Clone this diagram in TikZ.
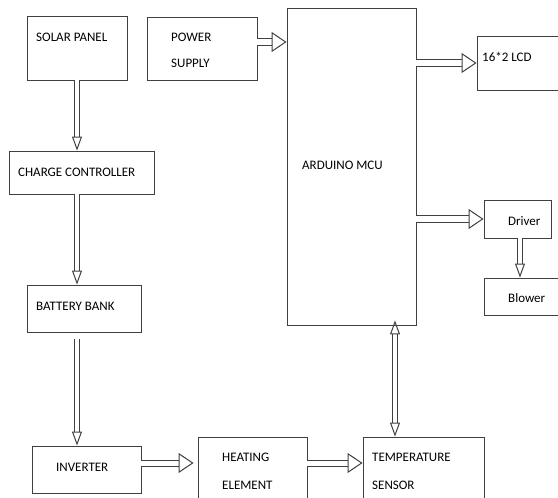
\documentclass[tikz,border=0pt]{standalone}
\usepackage{fontspec}
\setmainfont{Carlito}
\usepackage{tikz}
\usetikzlibrary{arrows.meta,calc}
\tikzset{
    blk/.style={draw=black!75, line width=0.9pt, rectangle, inner sep=0pt},
    txt/.style={anchor=west, inner sep=0pt, text=black, font=\fontsize{13}{15}\selectfont},
    hflow/.style={draw=black!75, line width=1pt, double, double distance=6pt, -{Triangle[open, length=15pt, width=20pt]}},
    vflow/.style={draw=black!75, line width=1pt, double, double distance=3.5pt, -{Triangle[open, length=14pt, width=10pt]}},
    vflows/.style={vflow, {Triangle[open, length=14pt, width=10pt]}-{Triangle[open, length=14pt, width=10pt]}}}

\begin{document}
\begin{tikzpicture}[x=1pt, y=-1pt]
\useasboundingbox (0,0) rectangle (558,498);
\clip (0,0) rectangle (558,498);

%left column
\node[blk, minimum width=100pt, minimum height=64pt] (solar) at (77,48) {};
\node[blk, minimum width=145pt, minimum height=43pt] (charge) at (81.5,172.5) {};
\node[blk, minimum width=114pt, minimum height=47pt] (battery) at (84,308.5) {};
\node[blk, minimum width=109pt, minimum height=47pt] (inverter) at (86.5,469.5) {};
\node[txt] (solartxt) at (36,37) {SOLAR PANEL};
\node[txt] (chargetxt) at (18,172) {CHARGE CONTROLLER};
\node[txt] (batterytxt) at (36,306) {BATTERY BANK};
\node[txt] (invertertxt) at (56,467) {INVERTER};

%controller and outputs
\node[blk, minimum width=110pt, minimum height=63pt] (power) at (202,48.5) {};
\node[blk, minimum width=129pt, minimum height=317pt] (mcu) at (351.5,166.5) {};
\node[blk, minimum width=85pt, minimum height=54pt] (lcd) at (519.5,63) {};
\node[blk, minimum width=67pt, minimum height=38pt] (driver) at (517.5,219) {};
\node[blk, minimum width=78pt, minimum height=37pt] (blower) at (523,296.5) {};
\node[txt] (powertxt) at (171,37) {POWER};
\node[txt] (supplytxt) at (171,63) {SUPPLY};
\node[txt] (mcutxt) at (302,165) {ARDUINO MCU};
\node[txt] (lcdtxt) at (482,57) {16*2 LCD};
\node[txt] (drivertxt) at (508,221) {Driver};
\node[txt] (blowertxt) at (508,298) {Blower};

%bottom row
\node[blk, minimum width=109pt, minimum height=65pt] (heating) at (252.5,469.5) {};
\node[blk, minimum width=121pt, minimum height=65pt] (sensor) at (423.5,469.5) {};
\node[txt] (heatingtxt) at (222,457) {HEATING};
\node[txt] (elementtxt) at (222,485) {ELEMENT};
\node[txt] (sensortxt) at (372,457) {TEMPERATURE};
\node[txt] (sensortxtb) at (372,485) {SENSOR};

%arrows
\draw[vflow] (solar.south) -- (solar.south |- charge.north);
\draw[vflow] (solar.south |- charge.south) -- (solar.south |- battery.north);
\draw[vflow] ([yshift=-7pt]solar.south |- battery.south) -- (solar.south |- inverter.north);
\draw[hflow] ([yshift=6.5pt]power.east) -- ([yshift=6.5pt]power.east -| mcu.west);
\draw[hflow] (mcu.east |- lcd.west) -- (lcd.west);
\draw[hflow] (mcu.east |- driver.west) -- (driver.west);
\draw[vflow] ([xshift=2.5pt]driver.south) -- ([xshift=2.5pt]driver.south |- blower.north);
\draw[hflow, double distance=5pt] ([yshift=6.5pt]inverter.east) -- ([yshift=6.5pt,xshift=-4pt]inverter.east -| heating.west);
\draw[hflow, double distance=5pt] ([yshift=6.5pt]heating.east) -- ([yshift=6.5pt]heating.east -| sensor.west);
\draw[vflows] ([xshift=-28.5pt]sensor.north) -- ([xshift=-28.5pt,yshift=5pt]sensor.north |- mcu.south);
\end{tikzpicture}
\end{document}
